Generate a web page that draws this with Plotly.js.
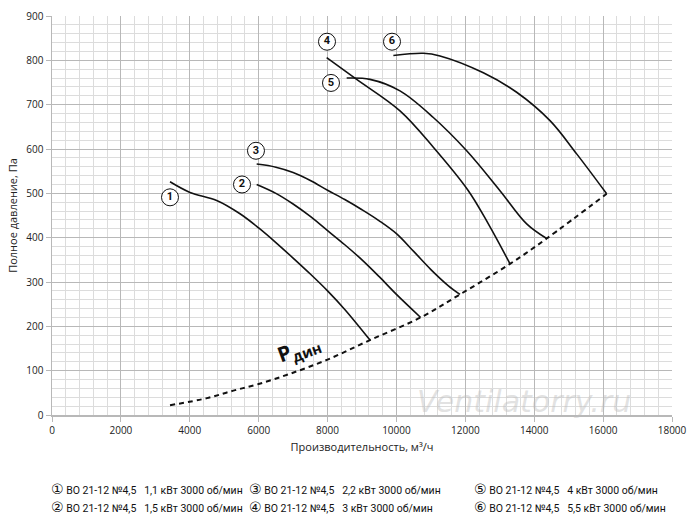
<!DOCTYPE html>
<html><head><meta charset="utf-8">
<script src="https://cdn.plot.ly/plotly-3.0.1.min.js"></script>
<style>body{margin:0;background:#fff}#chart{width:700px;height:521px}</style>
</head><body><div id="chart"></div>
<script>
// Fan curves: flow (m3/h) and total pressure (Pa)
const q1 = [3426, 4006, 4781, 5458, 6000, 6500, 7000, 7500, 8000, 8500, 9232];
const p1 = [526, 502, 484, 454, 422, 389, 354, 318, 280, 238, 169];
const q2 = [5942, 6500, 7000, 7500, 8000, 8500, 9000, 9500, 10000, 10703];
const p2 = [520, 500, 476, 448, 416, 384, 350, 312, 272, 220];
const q3 = [5942, 6500, 7000, 7500, 8000, 8500, 9000, 9500, 10000, 10500, 11000, 11500, 11845];
const p3 = [566, 559, 547, 529, 507, 486, 463, 438, 409, 369, 328, 292, 272];
const q4 = [7974, 8845, 10103, 11071, 12087, 12668, 13297];
const p4 = [806, 757, 686, 604, 506, 431, 341];
const q5 = [8555, 9232, 10103, 11071, 12039, 13006, 13781, 14361];
const p5 = [760, 757, 731, 671, 596, 506, 431, 398];
const q6 = [9910, 10781, 11265, 12523, 13490, 14458, 15232, 16103];
const p6 = [811, 816, 810, 772, 728, 664, 589, 499];
// Dynamic pressure line
const qd = [3426, 4500, 5264, 6000, 6910, 8000, 9232, 10703, 11845, 13297, 14361, 16103];
const pd = [22, 38, 55, 70, 93, 125, 169, 220, 272, 341, 398, 499];
// Curve number labels
const labelNums = ['1', '2', '3', '4', '5', '6'];
const labelQ = [3426, 5516, 5922, 7984, 8100, 9871];
const labelP = [491, 520, 596, 842, 749, 842];
// Legend entries
const legendMarks = ['①', '②', '③', '④', '⑤', '⑥'];
const legendModel = 'ВО 21-12 №4,5';
const legendPower = ['1,1 кВт', '1,5 кВт', '2,2 кВт', '3 кВт', '4 кВт', '5,5 кВт'];
const legendSpeed = '3000 об/мин';

const curveLine = {color: '#111', width: 1.6, shape: 'spline', smoothing: 1};
const series = [[q1,p1],[q2,p2],[q3,p3],[q4,p4],[q5,p5],[q6,p6]];
const traces = series.map(s => ({x: s[0], y: s[1], mode: 'lines', line: curveLine, hoverinfo: 'skip'}));
traces.push({x: qd, y: pd, mode: 'lines', line: {color: '#111', width: 2, dash: '5px,4px', shape: 'spline'}});
traces.push({x: labelQ, y: labelP, mode: 'markers+text', text: labelNums, textposition: 'middle center',
  textfont: {family: 'Roboto, Arial', size: 11, color: '#111', weight: 'bold'},
  marker: {symbol: 'circle', size: 17, color: '#fff', line: {color: '#111', width: 1}}});

const annotations = [];
const colX = [50, 248, 473];
const rowY = [489, 507];
const toPx = px => (px - 52) / 620;
const toPy = py => (415 - py) / 400;
for (let i = 0; i < 6; i++) {
  const col = Math.floor(i / 2), row = i % 2;
  annotations.push({xref: 'paper', yref: 'paper', x: toPx(colX[col]), y: toPy(rowY[row]), xanchor: 'left', yanchor: 'middle',
    showarrow: false, borderpad: 0, font: {family: 'Roboto, DejaVu Sans', size: 10.5, color: '#111'},
    text: '<span style="font-size:14px;font-family:DejaVu Sans">' + legendMarks[i] + '</span> ' +
          legendModel + '&nbsp;&nbsp; ' + legendPower[i] + ' ' + legendSpeed});
}
annotations.push({x: 7150, y: 150, xref: 'x', yref: 'y', showarrow: false, textangle: -20,
  text: '<b>P</b><sub><b>дин</b></sub>', font: {family: 'Open Sans, Arial', size: 21, color: '#111'}});
annotations.push({x: 13700, y: 30, xref: 'x', yref: 'y', showarrow: false,
  text: 'Ventilatorry.ru', font: {family: 'DejaVu Sans', size: 30, color: 'rgba(190,190,190,0.45)', style: 'italic'}});

const axisCommon = {showline: true, linecolor: '#b8b8b8', linewidth: 1.5, ticks: 'outside', ticklen: 5,
  tickcolor: '#b8b8b8', gridcolor: '#b8b8b8', gridwidth: 1, zeroline: false, mirror: false, tickformat: 'd',
  tickfont: {family: 'Open Sans, Arial', size: 10, color: '#222'}};
const layout = {
  width: 700, height: 521, margin: {l: 52, r: 28, t: 16, b: 106},
  paper_bgcolor: '#fff', plot_bgcolor: '#fff', showlegend: false,
  xaxis: Object.assign({}, axisCommon, {range: [0, 18000], dtick: 2000, tick0: 0,
    minor: {dtick: 400, showgrid: true, gridcolor: '#dcdcdc', gridwidth: 1},
    title: {text: 'Производительность, м³/ч', standoff: 8, font: {family: 'Open Sans, Arial', size: 11, color: '#222'}}}),
  yaxis: Object.assign({}, axisCommon, {range: [0, 900], dtick: 100, tick0: 0,
    minor: {dtick: 20, showgrid: true, gridcolor: '#dcdcdc', gridwidth: 1},
    title: {text: 'Полное давление, Па', standoff: 6, font: {family: 'Open Sans, Arial', size: 11, color: '#222'}}}),
  annotations: annotations
};
Plotly.newPlot('chart', traces, layout, {staticPlot: true});
</script></body></html>
